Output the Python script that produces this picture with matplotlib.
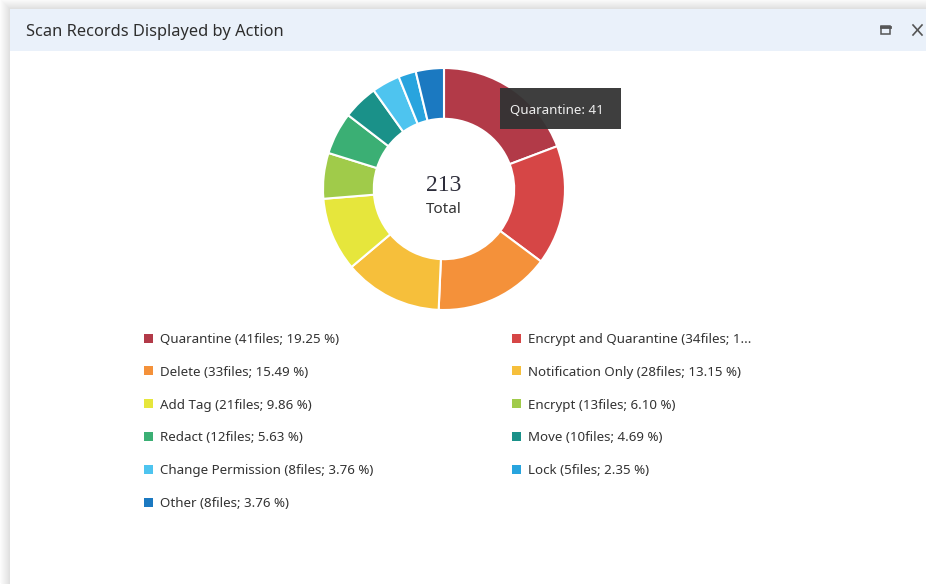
import numpy as np
import matplotlib.pyplot as plt
from matplotlib.patches import Rectangle

# datos del grafico
acciones = ['Quarantine', 'Encrypt and Quarantine', 'Delete', 'Notification Only',
            'Add Tag', 'Encrypt', 'Redact', 'Move', 'Change Permission', 'Lock', 'Other']
archivos = [41, 34, 33, 28, 21, 13, 12, 10, 8, 5, 8]
colores = ['#B23A48', '#D64646', '#F4913A', '#F6BF3B', '#E6E63C', '#A0CB4A',
           '#3BAF74', '#1A9189', '#4EC4EF', '#28A4DE', '#1B79C1']
titulo = 'Scan Records Displayed by Action'
tooltip = 'Quarantine: 41'

W, H = 926, 584
total = sum(archivos)
plt.rcParams['font.family'] = ['Noto Sans', 'DejaVu Sans']

fig = plt.figure(figsize=(W / 100, H / 100), dpi=100)
fig.patch.set_facecolor('#ffffff')

# fondo en coordenadas de pixeles
ax = fig.add_axes([0, 0, 1, 1])
ax.set_xlim(0, W)
ax.set_ylim(H, 0)
ax.axis('off')

# sombra de la ventana
for i in range(10):
    g = 1 - 0.012 * (i + 1)
    ax.add_patch(Rectangle((i, i - 1), W, H, color=(g, g, g), lw=0))
ax.add_patch(Rectangle((10, 9), W, H, color='white', lw=0))
# cabecera
ax.add_patch(Rectangle((10, 9), W, 42, color='#EAF1FA', lw=0))
ax.text(26, 32, titulo, fontsize=11.8, color='#2e2e2e', va='center', ha='left',
        fontweight='semibold')
# iconos maximizar / cerrar
ax.add_patch(Rectangle((881, 26), 9, 8, fill=False, ec='#555555', lw=1.1))
ax.plot([881, 890], [26.5, 26.5], color='#555555', lw=2)
ax.plot([913, 922], [25, 35], color='#555555', lw=1.2)
ax.plot([913, 922], [35, 25], color='#555555', lw=1.2)

# leyenda
def etiqueta(nombre, n):
    s = '%s (%dfiles; %.2f %%)' % (nombre, n, 100.0 * n / total)
    if len(s) > 38:
        s = s[:34] + '...'
    return s

for i, (nombre, n, c) in enumerate(zip(acciones, archivos, colores)):
    fila, col = divmod(i, 2)
    x0 = 144 if col == 0 else 512
    y0 = 338 + fila * 32.8
    ax.add_patch(Rectangle((x0, y0 - 4.5), 9, 9, color=c, lw=0))
    ax.text(x0 + 16, y0 + 1.5, etiqueta(nombre, n), fontsize=9.6, color='#333333',
            va='center', ha='left')

# dona
cx, cy, r = 444, 189, 121
ax2 = fig.add_axes([(cx - r) / W, (H - cy - r) / H, 2 * r / W, 2 * r / H])
ax2.pie(archivos, colors=colores, startangle=90, counterclock=False, radius=1,
        wedgeprops=dict(width=0.42, edgecolor='white', linewidth=1.5))
ax2.set_xlim(-1, 1)
ax2.set_ylim(-1, 1)
ax2.axis('off')
ax2.text(0, 0.03, str(total), fontsize=17, family='Liberation Serif',
         color='#2d2d3a', ha='center', va='center')
ax2.text(0, -0.17, 'Total', fontsize=11, color='#333333', ha='center', va='center')

# tooltip
ax3 = fig.add_axes([0, 0, 1, 1], facecolor='none')
ax3.set_xlim(0, W)
ax3.set_ylim(H, 0)
ax3.axis('off')
ax3.add_patch(Rectangle((500, 88), 121, 41, color='#333333', alpha=0.95, lw=0))
ax3.text(510, 110, tooltip, fontsize=9.6, color='#eeeeee', va='center', ha='left')

fig.savefig('out.png', dpi=100)
